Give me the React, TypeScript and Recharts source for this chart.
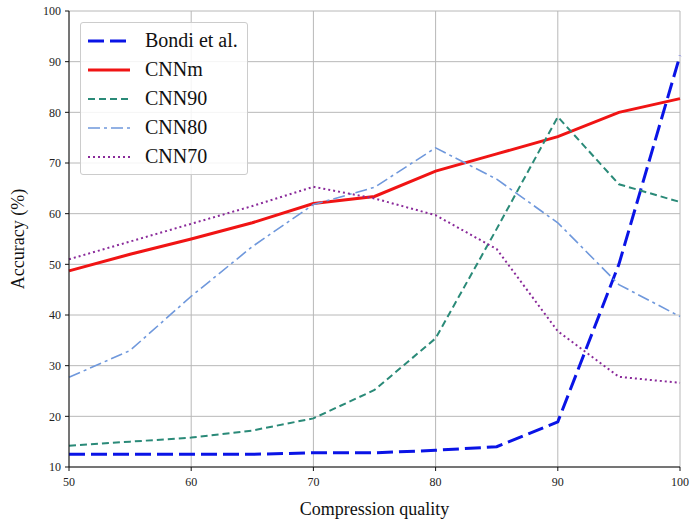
import React from 'react';
import { LineChart, Line, XAxis, YAxis, CartesianGrid } from 'recharts';

const quality = [50, 55, 60, 65, 70, 75, 80, 85, 90, 95, 100];
const bondi = [12.5, 12.5, 12.5, 12.5, 12.8, 12.8, 13.3, 14, 18.9, 50, 91.2];
const cnnM = [48.7, 52, 55, 58.2, 62, 63.4, 68.4, 71.8, 75.2, 80, 82.7];
const cnn90 = [14.2, 15, 15.8, 17.2, 19.6, 25.2, 35.4, 57, 79.1, 65.8, 62.3];
const cnn80 = [27.7, 33, 43.7, 53.5, 61.8, 65.2, 73, 66.8, 58.2, 46, 39.7];
const cnn70 = [51, 54.5, 58, 61.5, 65.3, 63, 59.7, 53, 36.8, 27.8, 26.6];
const xTicks = [50, 60, 70, 80, 90, 100];
const yTicks = [10, 20, 30, 40, 50, 60, 70, 80, 90, 100];

const series = [
  { key: 'bondi', name: 'Bondi et al.', color: '#0a14e6', width: 3, dash: '16 6' },
  { key: 'cnnM', name: 'CNNm', color: '#f01414', width: 3, dash: undefined },
  { key: 'cnn90', name: 'CNN90', color: '#2a8a78', width: 2, dash: '7 4' },
  { key: 'cnn80', name: 'CNN80', color: '#6f98dc', width: 1.6, dash: '12 4 3 4' },
  { key: 'cnn70', name: 'CNN70', color: '#8a2a9a', width: 2, dash: '2 3' },
];

const data = quality.map((q, i) => ({
  q,
  bondi: bondi[i],
  cnnM: cnnM[i],
  cnn90: cnn90[i],
  cnn80: cnn80[i],
  cnn70: cnn70[i],
}));

const font = '"Liberation Serif", "DejaVu Serif", serif';

const LegendBox = () => (
  <div
    style={{
      position: 'absolute',
      left: 80,
      top: 22,
      width: 168,
      boxSizing: 'border-box',
      background: 'rgba(255,255,255,0.85)',
      border: '1px solid #cccccc',
      borderRadius: 3,
      padding: '3px 6px 3px 6px',
      fontFamily: font,
      fontSize: 20,
      color: '#111',
    }}
  >
    {series.map((s) => (
      <div key={s.key} style={{ display: 'flex', alignItems: 'center', height: 29 }}>
        <svg width={44} height={10} style={{ marginRight: 14 }}>
          <line
            x1={1}
            y1={5}
            x2={43}
            y2={5}
            stroke={s.color}
            strokeWidth={s.width}
            strokeDasharray={s.dash}
          />
        </svg>
        <span>{s.name}</span>
      </div>
    ))}
  </div>
);

export default function App() {
  return (
    <div style={{ position: 'absolute', left: 0, top: 0, width: 691, height: 519, background: '#fff' }}>
      <LineChart
        width={691}
        height={519}
        data={data}
        margin={{ top: 11, right: 11, left: 0, bottom: 0 }}
      >
        <CartesianGrid stroke="#b8b8b8" strokeWidth={1} />
        <XAxis
          dataKey="q"
          type="number"
          domain={[50, 100]}
          ticks={xTicks}
          height={52}
          tickSize={4}
          tickMargin={6}
          stroke="#111"
          tick={{ fill: '#222', fontSize: 12, fontFamily: font }}
          label={{
            value: 'Compression quality',
            position: 'insideBottom',
            offset: 4,
            style: { fontSize: 18, fontFamily: font, fill: '#111' },
          }}
        />
        <XAxis
          xAxisId="top"
          orientation="top"
          dataKey="q"
          type="number"
          domain={[50, 100]}
          height={0}
          tick={false}
          tickLine={false}
          stroke="#111"
        />
        <YAxis
          type="number"
          domain={[10, 100]}
          ticks={yTicks}
          width={69}
          tickSize={4}
          tickMargin={4}
          stroke="#111"
          tick={{ fill: '#222', fontSize: 12, fontFamily: font }}
          label={{
            value: 'Accuracy (%)',
            angle: -90,
            position: 'insideLeft',
            offset: 18,
            style: { textAnchor: 'middle', fontSize: 18, fontFamily: font, fill: '#111' },
          }}
        />
        <YAxis
          yAxisId="right"
          orientation="right"
          domain={[10, 100]}
          width={0}
          tick={false}
          tickLine={false}
          stroke="#111"
        />
        {series.map((s) => (
          <Line
            key={s.key}
            dataKey={s.key}
            name={s.name}
            stroke={s.color}
            strokeWidth={s.width}
            strokeDasharray={s.dash}
            dot={false}
            activeDot={false}
            type="linear"
            isAnimationActive={false}
          />
        ))}
      </LineChart>
      <LegendBox />
    </div>
  );
}
